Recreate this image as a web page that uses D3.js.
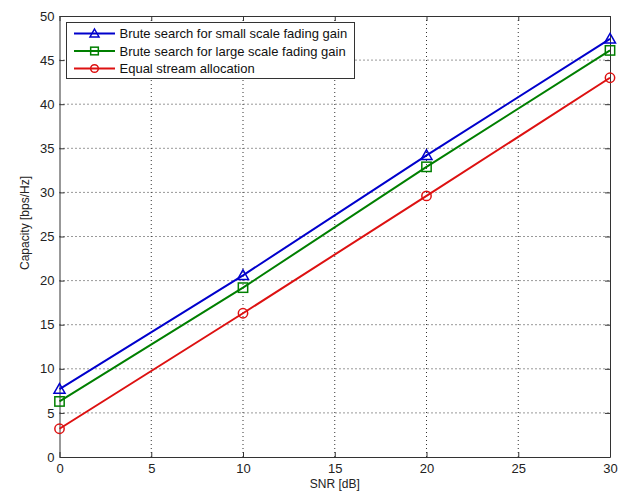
<!DOCTYPE html>
<html>
<head>
<meta charset="utf-8">
<script src="https://cdn.jsdelivr.net/npm/d3@7"></script>
<style>
  body { margin: 0; background: #fff; }
  svg { display: block; font-family: "Liberation Sans", Arial, sans-serif; }
</style>
</head>
<body>
<div id="chart"></div>
<script>
// data
const snr = [0, 10, 20, 30];
const smallScale = [7.7, 20.6, 34.2, 47.4];
const largeScale = [6.3, 19.2, 32.9, 46.1];
const equalAlloc = [3.2, 16.3, 29.6, 43.0];
const xTicks = [0, 5, 10, 15, 20, 25, 30];
const yTicks = [0, 5, 10, 15, 20, 25, 30, 35, 40, 45, 50];
const seriesNames = [
  'Brute search for small scale fading gain',
  'Brute search for large scale fading gain',
  'Equal stream allocation'
];

const width = 625, height = 492;
const margin = { top: 16, right: 15, bottom: 35, left: 59.5 };

const svg = d3.select('#chart').append('svg')
  .attr('width', width)
  .attr('height', height);

const x = d3.scaleLinear().domain([0, 30]).range([margin.left, width - margin.right]);
const y = d3.scaleLinear().domain([0, 50]).range([height - margin.bottom, margin.top]);

// dotted grid
const grid = svg.append('g').attr('class', 'grid');
grid.selectAll('line.gx')
  .data(xTicks.slice(1, -1))
  .enter().append('line')
    .attr('x1', d => x(d)).attr('x2', d => x(d))
    .attr('y1', y(0)).attr('y2', y(50))
    .attr('stroke', '#333').attr('stroke-width', 1)
    .attr('stroke-dasharray', '1,3');
grid.selectAll('line.gy')
  .data(yTicks.slice(1, -1))
  .enter().append('line')
    .attr('x1', x(0)).attr('x2', x(30))
    .attr('y1', d => y(d)).attr('y2', d => y(d))
    .attr('stroke', '#333').attr('stroke-width', 1)
    .attr('stroke-dasharray', '1,3');

// axes with inward ticks, MATLAB style
function styleAxis(g) {
  g.select('.domain').attr('stroke', '#333');
  g.selectAll('.tick line').attr('stroke', '#333');
  g.selectAll('.tick text').attr('fill', '#222').style('font-size', '13px');
}

svg.append('g')
  .attr('transform', `translate(0,${y(0)})`)
  .call(d3.axisBottom(x).tickValues(xTicks).tickSizeInner(-5).tickSizeOuter(0).tickPadding(7))
  .call(styleAxis);
svg.append('g')
  .attr('transform', `translate(0,${y(50)})`)
  .call(d3.axisTop(x).tickValues(xTicks).tickSizeInner(-5).tickSizeOuter(0).tickFormat(''))
  .call(styleAxis);
svg.append('g')
  .attr('transform', `translate(${x(0)},0)`)
  .call(d3.axisLeft(y).tickValues(yTicks).tickSizeInner(-5).tickSizeOuter(0).tickPadding(5))
  .call(styleAxis);
svg.append('g')
  .attr('transform', `translate(${x(30)},0)`)
  .call(d3.axisRight(y).tickValues(yTicks).tickSizeInner(-5).tickSizeOuter(0).tickFormat(''))
  .call(styleAxis);

// axis labels
svg.append('text')
  .attr('x', (x(0) + x(30)) / 2)
  .attr('y', 488)
  .attr('text-anchor', 'middle')
  .style('font-size', '12px')
  .attr('fill', '#222')
  .text('SNR [dB]');
svg.append('text')
  .attr('transform', 'translate(29,223) rotate(-90)')
  .attr('text-anchor', 'middle')
  .style('font-size', '12px')
  .attr('fill', '#222')
  .text('Capacity [bps/Hz]');

const series = [
  { name: seriesNames[0], values: smallScale, color: '#0000cc', marker: 'triangle' },
  { name: seriesNames[1], values: largeScale, color: '#007f00', marker: 'square' },
  { name: seriesNames[2], values: equalAlloc, color: '#dd1111', marker: 'circle' }
];

const line = d3.line()
  .x((d, i) => x(snr[i]))
  .y(d => y(d));

function drawMarker(g, type, color, r) {
  if (type === 'triangle') {
    g.append('path').attr('d', `M0,${-r}L${r},${r * 0.75}L${-r},${r * 0.75}Z`);
  } else if (type === 'square') {
    g.append('rect').attr('x', -r * 0.85).attr('y', -r * 0.85).attr('width', r * 1.7).attr('height', r * 1.7);
  } else {
    g.append('circle').attr('r', r * 0.85);
  }
  g.selectAll('*').attr('fill', 'none').attr('stroke', color).attr('stroke-width', 1.5);
}

series.forEach(s => {
  svg.append('path')
    .datum(s.values)
    .attr('d', line)
    .attr('fill', 'none')
    .attr('stroke', s.color)
    .attr('stroke-width', 2);
  s.values.forEach((v, i) => {
    const g = svg.append('g').attr('transform', `translate(${x(snr[i])},${y(v)})`);
    drawMarker(g, s.marker, s.color, 5.5);
  });
});

// legend
const legend = svg.append('g');
legend.append('rect')
  .attr('x', 66.5).attr('y', 22.5)
  .attr('width', 288).attr('height', 56)
  .attr('fill', '#fff').attr('stroke', '#333');
series.forEach((s, i) => {
  const ly = 33.5 + i * 17.5;
  legend.append('line')
    .attr('x1', 74).attr('x2', 115)
    .attr('y1', ly).attr('y2', ly)
    .attr('stroke', s.color).attr('stroke-width', 2);
  const g = legend.append('g').attr('transform', `translate(94.5,${ly})`);
  drawMarker(g, s.marker, s.color, 4.5);
  legend.append('text')
    .attr('x', 119.5).attr('y', ly + 4.5)
    .style('font-size', '13px')
    .attr('fill', '#111')
    .text(s.name);
});
</script>
</body>
</html>
